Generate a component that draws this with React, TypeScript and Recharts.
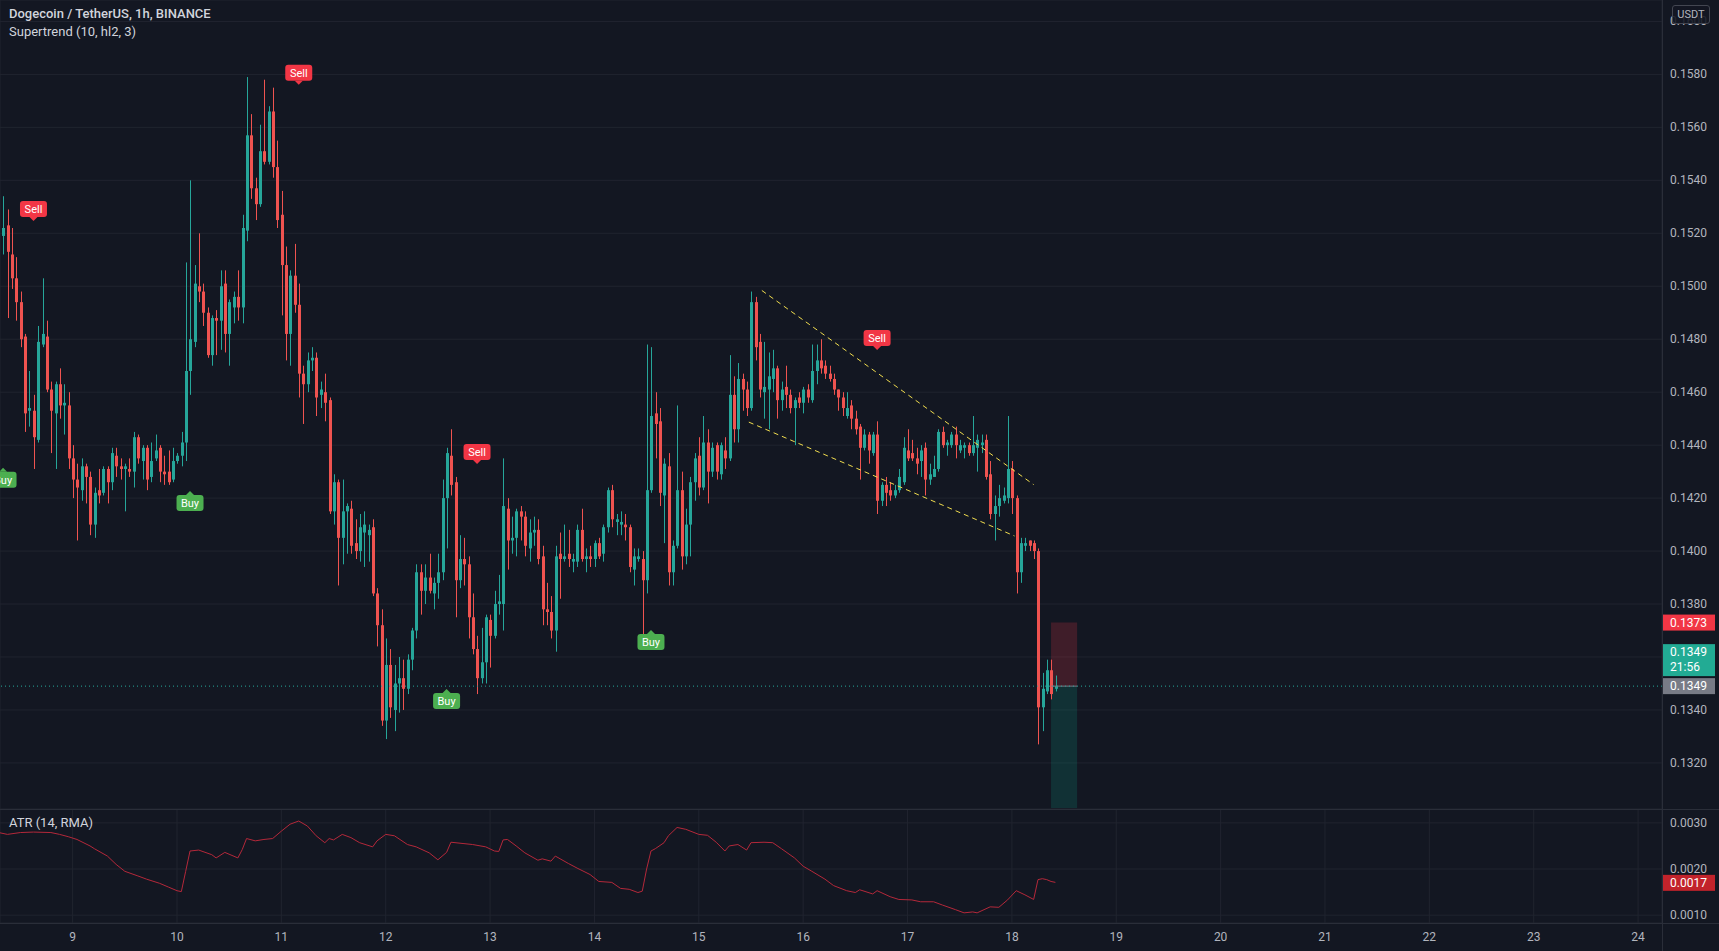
import React from 'react';
import {
  ComposedChart,
  Bar,
  Line,
  Scatter,
  XAxis,
  YAxis,
  CartesianGrid,
  ReferenceLine,
  ReferenceArea,
} from 'recharts';

// hours are counted from 9 Jan 00:00 — first bar is 8 Jan 08:00 (1h candles)
const FIRST_HOUR = -16;

const opens = [
  0.1519, 0.1523, 0.1512, 0.1503, 0.1494, 0.1481, 0.1453, 0.1453, 0.1442, 0.1478,
  0.1481, 0.1461, 0.1452, 0.1463, 0.1455, 0.1455, 0.1435, 0.1427, 0.1423, 0.1432,
  0.1428, 0.1410, 0.1423, 0.1422, 0.1431, 0.1426, 0.1436, 0.1432, 0.1431, 0.1431,
  0.1430, 0.1443, 0.1434, 0.1439, 0.1428, 0.1435, 0.1439, 0.1430, 0.1430, 0.1427,
  0.1434, 0.1436, 0.1441, 0.1468, 0.1479, 0.1500, 0.1498, 0.1490, 0.1474, 0.1488,
  0.1487, 0.1501, 0.1482, 0.1492, 0.1496, 0.1492, 0.1521, 0.1557, 0.1537, 0.1531,
  0.1551, 0.1547, 0.1566, 0.1545, 0.1527, 0.1508, 0.1482, 0.1504, 0.1493, 0.1467,
  0.1463, 0.1472, 0.1473, 0.1459, 0.1460, 0.1457, 0.1415, 0.1426, 0.1405, 0.1415,
  0.1416, 0.1403, 0.1400, 0.1407, 0.1406, 0.1409, 0.1384, 0.1372, 0.1336, 0.1357,
  0.1340, 0.1350, 0.1352, 0.1348, 0.1359, 0.1370, 0.1392, 0.1385, 0.1390, 0.1384,
  0.1388, 0.1392, 0.1420, 0.1436, 0.1426, 0.1389, 0.1397, 0.1395, 0.1375, 0.1363,
  0.1352, 0.1358, 0.1374, 0.1368, 0.1380, 0.1380, 0.1416, 0.1404, 0.1405, 0.1415,
  0.1413, 0.1401, 0.1407, 0.1408, 0.1398, 0.1378, 0.1377, 0.1370, 0.1399, 0.1397,
  0.1399, 0.1396, 0.1396, 0.1408, 0.1397, 0.1398, 0.1397, 0.1403, 0.1399, 0.1409,
  0.1423, 0.1411, 0.1410, 0.1410, 0.1409, 0.1393, 0.1397, 0.1397, 0.1389, 0.1423,
  0.1452, 0.1449, 0.1421, 0.1432, 0.1392, 0.1402, 0.1423, 0.1398, 0.1410, 0.1426,
  0.1436, 0.1424, 0.1441, 0.1430, 0.1440, 0.1429, 0.1438, 0.1435, 0.1459, 0.1446,
  0.1465, 0.1461, 0.1454, 0.1494, 0.1479, 0.1460, 0.1461, 0.1465, 0.1469, 0.1457,
  0.1462, 0.1459, 0.1454, 0.1458, 0.1456, 0.1461, 0.1457, 0.1468, 0.1472, 0.1470,
  0.1467, 0.1465, 0.1461, 0.1458, 0.1451, 0.1455, 0.1450, 0.1447, 0.1439, 0.1444,
  0.1437, 0.1444, 0.1419, 0.1425, 0.1423, 0.1421, 0.1423, 0.1426, 0.1438, 0.1437,
  0.1435, 0.1434, 0.1439, 0.1427, 0.1428, 0.1431, 0.1445, 0.1440, 0.1440, 0.1444,
  0.1438, 0.1439, 0.1440, 0.1437, 0.1439, 0.1440, 0.1442, 0.1429, 0.1414, 0.1417,
  0.1419, 0.1420, 0.1431, 0.1420, 0.1392, 0.1402, 0.1404, 0.1403, 0.1400, 0.1341,
  0.1347, 0.1355, 0.1348,
];

const highs = [
  0.1534, 0.1529, 0.1522, 0.1511, 0.1498, 0.1482, 0.1468, 0.1459, 0.1485, 0.1503,
  0.1487, 0.1464, 0.1464, 0.1469, 0.1463, 0.1460, 0.1440, 0.1433, 0.1435, 0.1433,
  0.1430, 0.1424, 0.1431, 0.1432, 0.1432, 0.1439, 0.1439, 0.1435, 0.1433, 0.1435,
  0.1445, 0.1444, 0.1440, 0.1440, 0.1441, 0.1444, 0.1440, 0.1436, 0.1438, 0.1439,
  0.1437, 0.1445, 0.1509, 0.1540, 0.1508, 0.1520, 0.1501, 0.1492, 0.1489, 0.1491,
  0.1506, 0.1506, 0.1495, 0.1498, 0.1506, 0.1527, 0.1579, 0.1565, 0.1541, 0.1561,
  0.1578, 0.1568, 0.1575, 0.1555, 0.1536, 0.1515, 0.1506, 0.1516, 0.1501, 0.1470,
  0.1475, 0.1477, 0.1475, 0.1464, 0.1467, 0.1458, 0.1429, 0.1427, 0.1427, 0.1418,
  0.1419, 0.1412, 0.1414, 0.1415, 0.1410, 0.1412, 0.1386, 0.1378, 0.1367, 0.1363,
  0.1357, 0.1360, 0.1359, 0.1361, 0.1371, 0.1395, 0.1395, 0.1395, 0.1399, 0.1390,
  0.1399, 0.1427, 0.1439, 0.1446, 0.1428, 0.1406, 0.1405, 0.1398, 0.1384, 0.1368,
  0.1371, 0.1376, 0.1376, 0.1385, 0.1391, 0.1435, 0.1420, 0.1413, 0.1416, 0.1417,
  0.1415, 0.1412, 0.1413, 0.1412, 0.1402, 0.1388, 0.1383, 0.1402, 0.1407, 0.1410,
  0.1408, 0.1399, 0.1410, 0.1416, 0.1401, 0.1402, 0.1404, 0.1405, 0.1410, 0.1424,
  0.1425, 0.1414, 0.1415, 0.1414, 0.1410, 0.1401, 0.1401, 0.1400, 0.1478, 0.1477,
  0.1460, 0.1454, 0.1435, 0.1437, 0.1404, 0.1455, 0.1430, 0.1416, 0.1428, 0.1437,
  0.1443, 0.1451, 0.1446, 0.1441, 0.1441, 0.1441, 0.1443, 0.1474, 0.1466, 0.1471,
  0.1467, 0.1464, 0.1498, 0.1496, 0.1482, 0.1479, 0.1475, 0.1476, 0.1470, 0.1464,
  0.1470, 0.1461, 0.1458, 0.1460, 0.1462, 0.1463, 0.1478, 0.1478, 0.1480, 0.1472,
  0.1470, 0.1467, 0.1461, 0.1460, 0.1460, 0.1457, 0.1453, 0.1448, 0.1446, 0.1445,
  0.1445, 0.1449, 0.1426, 0.1428, 0.1426, 0.1425, 0.1431, 0.1443, 0.1446, 0.1442,
  0.1439, 0.1440, 0.1441, 0.1433, 0.1436, 0.1446, 0.1447, 0.1442, 0.1445, 0.1447,
  0.1442, 0.1441, 0.1441, 0.1451, 0.1444, 0.1444, 0.1444, 0.1434, 0.1421, 0.1425,
  0.1424, 0.1451, 0.1434, 0.1421, 0.1405, 0.1405, 0.1404, 0.1404, 0.1401, 0.1354,
  0.1359, 0.1359, 0.1353,
];

const lows = [
  0.1512, 0.1488, 0.1499, 0.1487, 0.1477, 0.1445, 0.1447, 0.1431, 0.1441, 0.1477,
  0.1460, 0.1437, 0.1431, 0.1450, 0.1444, 0.1431, 0.1420, 0.1404, 0.1419, 0.1418,
  0.1406, 0.1405, 0.1418, 0.1421, 0.1418, 0.1423, 0.1428, 0.1427, 0.1415, 0.1428,
  0.1424, 0.1433, 0.1427, 0.1423, 0.1426, 0.1434, 0.1426, 0.1425, 0.1425, 0.1426,
  0.1433, 0.1432, 0.1434, 0.1459, 0.1477, 0.1494, 0.1485, 0.1473, 0.1470, 0.1474,
  0.1476, 0.1475, 0.1470, 0.1486, 0.1487, 0.1486, 0.1517, 0.1533, 0.1525, 0.1530,
  0.1546, 0.1546, 0.1541, 0.1522, 0.1489, 0.1472, 0.1470, 0.1490, 0.1458, 0.1448,
  0.1460, 0.1468, 0.1451, 0.1454, 0.1449, 0.1414, 0.1410, 0.1387, 0.1395, 0.1399,
  0.1399, 0.1397, 0.1396, 0.1394, 0.1396, 0.1383, 0.1364, 0.1334, 0.1329, 0.1337,
  0.1332, 0.1339, 0.1340, 0.1346, 0.1355, 0.1367, 0.1376, 0.1380, 0.1384, 0.1378,
  0.1382, 0.1389, 0.1401, 0.1421, 0.1375, 0.1386, 0.1387, 0.1367, 0.1361, 0.1346,
  0.1350, 0.1350, 0.1356, 0.1367, 0.1376, 0.1370, 0.1393, 0.1399, 0.1398, 0.1404,
  0.1398, 0.1396, 0.1402, 0.1395, 0.1372, 0.1372, 0.1367, 0.1362, 0.1382, 0.1396,
  0.1394, 0.1392, 0.1394, 0.1396, 0.1392, 0.1394, 0.1394, 0.1397, 0.1396, 0.1407,
  0.1409, 0.1406, 0.1406, 0.1404, 0.1392, 0.1387, 0.1396, 0.1368, 0.1384, 0.1422,
  0.1435, 0.1417, 0.1403, 0.1387, 0.1387, 0.1401, 0.1393, 0.1395, 0.1398, 0.1419,
  0.1421, 0.1423, 0.1418, 0.1428, 0.1427, 0.1427, 0.1431, 0.1434, 0.1441, 0.1441,
  0.1453, 0.1451, 0.1453, 0.1472, 0.1458, 0.1450, 0.1446, 0.1460, 0.1450, 0.1453,
  0.1454, 0.1452, 0.1440, 0.1454, 0.1452, 0.1456, 0.1456, 0.1463, 0.1467, 0.1465,
  0.1464, 0.1459, 0.1453, 0.1451, 0.1450, 0.1446, 0.1444, 0.1427, 0.1438, 0.1433,
  0.1436, 0.1414, 0.1417, 0.1417, 0.1419, 0.1420, 0.1422, 0.1425, 0.1434, 0.1434,
  0.1429, 0.1428, 0.1421, 0.1425, 0.1428, 0.1430, 0.1439, 0.1436, 0.1439, 0.1435,
  0.1437, 0.1435, 0.1436, 0.1436, 0.1430, 0.1437, 0.1427, 0.1412, 0.1404, 0.1413,
  0.1418, 0.1418, 0.1414, 0.1384, 0.1388, 0.1400, 0.1400, 0.1397, 0.1327, 0.1332,
  0.1346, 0.1344, 0.1347,
];

const closes = [
  0.1522, 0.1513, 0.1503, 0.1494, 0.1480, 0.1452, 0.1454, 0.1443, 0.1479, 0.1482,
  0.1461, 0.1453, 0.1463, 0.1455, 0.1456, 0.1435, 0.1427, 0.1424, 0.1432, 0.1428,
  0.1410, 0.1422, 0.1421, 0.1431, 0.1426, 0.1437, 0.1432, 0.1431, 0.1432, 0.1430,
  0.1443, 0.1435, 0.1439, 0.1427, 0.1434, 0.1438, 0.1430, 0.1429, 0.1426, 0.1434,
  0.1436, 0.1441, 0.1468, 0.1480, 0.1501, 0.1498, 0.1490, 0.1474, 0.1488, 0.1487,
  0.1500, 0.1482, 0.1494, 0.1496, 0.1492, 0.1522, 0.1557, 0.1537, 0.1531, 0.1551,
  0.1547, 0.1566, 0.1545, 0.1525, 0.1508, 0.1482, 0.1504, 0.1493, 0.1467, 0.1463,
  0.1472, 0.1473, 0.1458, 0.1461, 0.1456, 0.1415, 0.1426, 0.1405, 0.1415, 0.1417,
  0.1402, 0.1400, 0.1409, 0.1410, 0.1408, 0.1384, 0.1372, 0.1336, 0.1357, 0.1341,
  0.1350, 0.1352, 0.1348, 0.1359, 0.1370, 0.1392, 0.1385, 0.1390, 0.1385, 0.1388,
  0.1392, 0.1420, 0.1437, 0.1425, 0.1389, 0.1397, 0.1395, 0.1375, 0.1363, 0.1352,
  0.1358, 0.1375, 0.1368, 0.1380, 0.1381, 0.1417, 0.1404, 0.1405, 0.1415, 0.1413,
  0.1402, 0.1407, 0.1408, 0.1397, 0.1378, 0.1377, 0.1370, 0.1398, 0.1397, 0.1398,
  0.1397, 0.1397, 0.1408, 0.1397, 0.1398, 0.1397, 0.1403, 0.1398, 0.1409, 0.1423,
  0.1412, 0.1412, 0.1411, 0.1409, 0.1394, 0.1398, 0.1398, 0.1389, 0.1423, 0.1451,
  0.1448, 0.1422, 0.1433, 0.1392, 0.1402, 0.1423, 0.1398, 0.1410, 0.1426, 0.1435,
  0.1424, 0.1441, 0.1430, 0.1439, 0.1430, 0.1440, 0.1435, 0.1459, 0.1446, 0.1465,
  0.1461, 0.1454, 0.1494, 0.1477, 0.1461, 0.1462, 0.1466, 0.1469, 0.1457, 0.1461,
  0.1459, 0.1454, 0.1457, 0.1456, 0.1461, 0.1458, 0.1468, 0.1472, 0.1469, 0.1467,
  0.1465, 0.1461, 0.1458, 0.1454, 0.1454, 0.1450, 0.1446, 0.1439, 0.1444, 0.1438,
  0.1444, 0.1419, 0.1425, 0.1422, 0.1421, 0.1423, 0.1428, 0.1439, 0.1435, 0.1435,
  0.1433, 0.1438, 0.1427, 0.1429, 0.1431, 0.1445, 0.1440, 0.1441, 0.1444, 0.1440,
  0.1440, 0.1440, 0.1437, 0.1440, 0.1442, 0.1441, 0.1428, 0.1414, 0.1417, 0.1420,
  0.1421, 0.1431, 0.1420, 0.1392, 0.1403, 0.1403, 0.1402, 0.1400, 0.1341, 0.1348,
  0.1355, 0.1346, 0.1349,
];

// ATR (14, RMA)
const atrHours = [
  -17, -15, -12, -9, -5, -3, -1, 1, 4, 5, 8, 10, 12, 15, 17, 20, 22, 24, 25, 26,
  27, 29, 32, 33, 35, 38, 39, 40, 42, 44, 46, 48, 50, 52, 54, 56, 58, 59, 60, 62,
  64, 66, 69, 70, 72, 74, 77, 79, 82, 84, 86, 87, 90, 92, 95, 97, 98, 99, 100, 102,
  104, 107, 108, 110, 111, 114, 116, 119, 121, 124, 126, 128, 130, 131, 132, 133, 134, 136, 137, 139,
  141, 144, 146, 148, 150, 151, 153, 155, 156, 159, 161, 163, 166, 168, 170, 173, 175, 178, 180, 181,
  184, 185, 188, 190, 193, 195, 198, 200, 203, 205, 207, 208, 211, 213, 215, 217, 219, 221, 222, 223,
  224, 225, 226,
];
const atrValues = [
  0.00279, 0.00275, 0.00279, 0.0028, 0.00279, 0.00275, 0.0027, 0.00264, 0.0025, 0.00244,
  0.00228, 0.0021, 0.00195, 0.00185, 0.00178, 0.00169, 0.00161, 0.00153, 0.00151, 0.00195,
  0.00239, 0.00241, 0.00231, 0.00224, 0.00236, 0.00224, 0.00242, 0.00266, 0.00261, 0.00264,
  0.00266, 0.00282, 0.00297, 0.00304, 0.00293, 0.00272, 0.00257, 0.00266, 0.00263, 0.00275,
  0.00268, 0.00257, 0.00248, 0.00261, 0.00275, 0.00272, 0.00253, 0.00248, 0.00235, 0.0022,
  0.00236, 0.00258, 0.00255, 0.00253, 0.00248, 0.00239, 0.00238, 0.00263, 0.00264, 0.0025,
  0.00235, 0.00219, 0.00222, 0.00217, 0.00228, 0.00212, 0.00202, 0.00188, 0.00173, 0.00171,
  0.00158, 0.00156, 0.00149, 0.00152, 0.002, 0.00239, 0.00244, 0.00257, 0.00272, 0.0029,
  0.00286, 0.00275, 0.00273, 0.00258, 0.00239, 0.0025, 0.00253, 0.00241, 0.00257, 0.00258,
  0.00257, 0.00244, 0.00224, 0.00206, 0.00195, 0.00178, 0.00164, 0.00153, 0.00149, 0.00155,
  0.00146, 0.00153, 0.0014, 0.00134, 0.00133, 0.00129, 0.00129, 0.00122, 0.00112, 0.00105,
  0.00107, 0.00105, 0.00118, 0.00117, 0.00133, 0.00153, 0.00144, 0.00134, 0.00177, 0.00179,
  0.00177, 0.00173, 0.00171,
];

// Supertrend flips
const sellHours = [-9, 52, 93, 185];
const sellPrices = [0.15292, 0.15806, 0.14374, 0.14805];
const buyHours = [-16, 27, 86, 133];
const buyPrices = [0.14269, 0.14182, 0.13434, 0.13657];

// falling wedge drawn by hand
const upperTrendHours = [158.5, 221];
const upperTrendPrices = [0.14984, 0.14251];
const lowerTrendHours = [155.5, 216.6];
const lowerTrendPrices = [0.14487, 0.14057];

// short position tool
const positionHours = [225, 231];
const stopPrice = 0.1373;
const entryPrice = 0.1349;
const targetPrice = 0.1303;

const lastPrice = 0.1349;
const lastAtr = 0.0017;
const countdown = '21:56';

const dayTicks = [0, 24, 48, 72, 96, 120, 144, 168, 192, 216, 240, 264, 288, 312, 336, 360];
const dayLabels = ['9', '10', '11', '12', '13', '14', '15', '16', '17', '18', '19', '20', '21', '22', '23', '24'];
const priceTicks = [0.132, 0.134, 0.136, 0.138, 0.14, 0.142, 0.144, 0.146, 0.148, 0.15, 0.152, 0.154, 0.156, 0.158, 0.16];
const hiddenPriceLabels = [0.136];
const atrTicks = [0.001, 0.002, 0.003];

const W = 1719;
const H = 951;
const AXIS_W = 57;
const PRICE_H = 809;
const ATR_H = 142;
const TIME_AXIS_H = 28;
const X_DOMAIN: [number, number] = [-16.7, 365.5];
const PRICE_DOMAIN: [number, number] = [0.13026, 0.16081];
const ATR_DOMAIN: [number, number] = [0.00083, 0.0033];

const BG = '#131722';
const GRID = '#20242f';
const BORDER = '#2a2e39';
const TEXT = '#b2b5be';
const UP = '#26a69a';
const DOWN = '#ef5350';
const FONT = 'Roboto, "Liberation Sans", sans-serif';

const candles = opens.map((o, i) => ({
  h: FIRST_HOUR + i,
  open: o,
  high: highs[i],
  low: lows[i],
  close: closes[i],
  range: [lows[i], highs[i]],
}));
const atrPoints = atrHours.map((h, i) => ({ h, atr: atrValues[i] }));
const sellTags = sellHours.map((h, i) => ({ h, p: sellPrices[i] }));
const buyTags = buyHours.map((h, i) => ({ h, p: buyPrices[i] }));

function Candle(props: any) {
  const { x, y, width, height, payload } = props;
  if (x == null || y == null) return null;
  const { open, close, high, low } = payload;
  const color = close >= open ? UP : DOWN;
  const span = high - low;
  const k = span > 0 ? height / span : 0;
  const yOf = (v: number) => y + (high - v) * k;
  const cx = Math.round(x + width / 2);
  const top = yOf(Math.max(open, close));
  const bot = yOf(Math.min(open, close));
  return (
    <g>
      <line x1={cx + 0.5} x2={cx + 0.5} y1={y} y2={y + height} stroke={color} strokeWidth={1} />
      <rect x={cx - 1} y={top} width={3} height={Math.max(1, bot - top)} fill={color} />
    </g>
  );
}

function SignalTag({ cx, cy, kind }: { cx?: number; cy?: number; kind: 'Sell' | 'Buy' }) {
  if (cx == null || cy == null) return null;
  const w = 27;
  const h = 16;
  const fill = kind === 'Sell' ? '#f23645' : '#4caf50';
  const arrow =
    kind === 'Sell'
      ? `M${cx - 4},${cy + h / 2} L${cx + 4},${cy + h / 2} L${cx},${cy + h / 2 + 4}Z`
      : `M${cx - 4},${cy - h / 2} L${cx + 4},${cy - h / 2} L${cx},${cy - h / 2 - 4}Z`;
  return (
    <g>
      <rect x={cx - w / 2} y={cy - h / 2} width={w} height={h} rx={3} fill={fill} />
      <path d={arrow} fill={fill} />
      <text x={cx} y={cy + 4} textAnchor="middle" fontSize={11} fontFamily={FONT} fill="#ffffff">
        {kind}
      </text>
    </g>
  );
}

function PriceTick({ x, y, payload }: any) {
  if (hiddenPriceLabels.includes(payload.value)) return <g />;
  return (
    <text x={x} y={y} dy={4} fontSize={12} fontFamily={FONT} fill={TEXT} textAnchor="start">
      {payload.value.toFixed(4)}
    </text>
  );
}

function DayTick({ x, y, payload, index }: any) {
  return (
    <text x={x} y={y} dy={10} fontSize={12} fontFamily={FONT} fill={TEXT} textAnchor="middle">
      {dayLabels[index] ?? String(payload.value)}
    </text>
  );
}

function AxisBadge(props: any) {
  const { viewBox, text, sub, fill } = props;
  if (!viewBox) return null;
  const right = viewBox.x + viewBox.width;
  const vy = viewBox.y;
  if (sub) {
    return (
      <g>
        <rect x={right} y={vy - 42} width={53} height={32} fill={fill} />
        <text x={right + 8} y={vy - 30} fontSize={12} fontFamily={FONT} fill="#fff">{text}</text>
        <text x={right + 8} y={vy - 15} fontSize={12} fontFamily={FONT} fill="#fff">{sub}</text>
      </g>
    );
  }
  return (
    <g>
      <rect x={right} y={vy - 8} width={53} height={16} fill={fill} />
      <text x={right + 8} y={vy + 4} fontSize={12} fontFamily={FONT} fill="#fff">{text}</text>
    </g>
  );
}

export default function App() {
  return (
    <div
      style={{
        position: 'absolute',
        left: 0,
        top: 0,
        width: W,
        height: H,
        background: BG,
        overflow: 'hidden',
        fontFamily: FONT,
      }}
    >
      <div style={{ position: 'absolute', left: 0, top: 0 }}>
        <ComposedChart width={W} height={PRICE_H} data={candles} margin={{ top: 0, right: 0, bottom: 0, left: 0 }}>
          <CartesianGrid stroke={GRID} />
          <XAxis
            type="number"
            dataKey="h"
            domain={X_DOMAIN}
            ticks={dayTicks}
            allowDataOverflow
            tick={false}
            tickLine={false}
            axisLine={false}
            height={0}
          />
          <YAxis
            orientation="right"
            width={AXIS_W}
            domain={PRICE_DOMAIN}
            ticks={priceTicks}
            allowDataOverflow
            axisLine={false}
            tickLine={false}
            tick={<PriceTick />}
          />
          <ReferenceArea
            x1={positionHours[0]}
            x2={positionHours[1]}
            y1={entryPrice}
            y2={stopPrice}
            fill="#f23645"
            fillOpacity={0.2}
            stroke="none"
          />
          <ReferenceArea
            x1={positionHours[0]}
            x2={positionHours[1]}
            y1={targetPrice}
            y2={entryPrice}
            fill="#089981"
            fillOpacity={0.2}
            stroke="none"
          />
          <ReferenceLine
            segment={[
              { x: positionHours[0], y: entryPrice },
              { x: positionHours[1], y: entryPrice },
            ]}
            stroke="#787b86"
            strokeWidth={1}
          />
          <ReferenceLine
            segment={[
              { x: upperTrendHours[0], y: upperTrendPrices[0] },
              { x: upperTrendHours[1], y: upperTrendPrices[1] },
            ]}
            stroke="#f0dc4e"
            strokeDasharray="5 4"
            strokeWidth={1}
          />
          <ReferenceLine
            segment={[
              { x: lowerTrendHours[0], y: lowerTrendPrices[0] },
              { x: lowerTrendHours[1], y: lowerTrendPrices[1] },
            ]}
            stroke="#f0dc4e"
            strokeDasharray="5 4"
            strokeWidth={1}
          />
          <ReferenceLine y={lastPrice} stroke={UP} strokeDasharray="1 3" strokeWidth={1} />
          <Bar dataKey="range" barSize={3} shape={<Candle />} isAnimationActive={false} />
          <Scatter
            data={sellTags}
            dataKey="p"
            isAnimationActive={false}
            shape={(p: any) => <SignalTag cx={p.cx} cy={p.cy} kind="Sell" />}
          />
          <Scatter
            data={buyTags}
            dataKey="p"
            isAnimationActive={false}
            shape={(p: any) => <SignalTag cx={p.cx} cy={p.cy} kind="Buy" />}
          />
          <ReferenceLine y={stopPrice} stroke="none" label={<AxisBadge text={stopPrice.toFixed(4)} fill="#f23645" />} />
          <ReferenceLine
            y={lastPrice}
            stroke="none"
            label={<AxisBadge text={lastPrice.toFixed(4)} sub={countdown} fill="#22ab94" />}
          />
          <ReferenceLine y={entryPrice} stroke="none" label={<AxisBadge text={entryPrice.toFixed(4)} fill="#787b86" />} />
        </ComposedChart>
      </div>

      <div style={{ position: 'absolute', left: 0, top: PRICE_H }}>
        <ComposedChart width={W} height={ATR_H} data={atrPoints} margin={{ top: 0, right: 0, bottom: 0, left: 0 }}>
          <CartesianGrid stroke={GRID} />
          <XAxis
            type="number"
            dataKey="h"
            domain={X_DOMAIN}
            ticks={dayTicks}
            allowDataOverflow
            height={TIME_AXIS_H}
            tickLine={false}
            axisLine={false}
            tick={<DayTick />}
          />
          <YAxis
            orientation="right"
            width={AXIS_W}
            domain={ATR_DOMAIN}
            ticks={atrTicks}
            allowDataOverflow
            axisLine={false}
            tickLine={false}
            tick={{ fontSize: 12, fill: TEXT, fontFamily: FONT }}
            tickFormatter={(v: number) => v.toFixed(4)}
          />
          <Line
            type="linear"
            dataKey="atr"
            stroke="#b4283a"
            strokeWidth={1}
            dot={false}
            isAnimationActive={false}
          />
          <ReferenceLine y={lastAtr} stroke="none" label={<AxisBadge text={lastAtr.toFixed(4)} fill="#c2232b" />} />
        </ComposedChart>
      </div>

      {/* pane borders */}
      <div style={{ position: 'absolute', left: W - AXIS_W, top: 0, width: 1, height: H, background: BORDER }} />
      <div style={{ position: 'absolute', left: 0, top: PRICE_H, width: W, height: 1, background: BORDER }} />
      <div style={{ position: 'absolute', left: 0, top: H - TIME_AXIS_H, width: W, height: 1, background: BORDER }} />

      {/* legends */}
      <div style={{ position: 'absolute', left: 9, top: 6, color: '#d1d4dc', fontSize: 13, fontWeight: 500, whiteSpace: 'nowrap' }}>
        Dogecoin / TetherUS, 1h, BINANCE
      </div>
      <div style={{ position: 'absolute', left: 9, top: 24, color: '#d1d4dc', fontSize: 13, whiteSpace: 'nowrap' }}>
        Supertrend (10, hl2, 3)
      </div>
      <div style={{ position: 'absolute', left: 9, top: PRICE_H + 6, color: '#d1d4dc', fontSize: 13, whiteSpace: 'nowrap' }}>
        ATR (14, RMA)
      </div>
      <div
        style={{
          position: 'absolute',
          left: 1672,
          top: 5,
          width: 36,
          height: 17,
          border: '1px solid #434651',
          borderRadius: 3,
          background: 'rgba(19,23,34,0.88)',
          color: TEXT,
          fontSize: 11,
          lineHeight: '17px',
          textAlign: 'center',
        }}
      >
        USDT
      </div>
    </div>
  );
}
